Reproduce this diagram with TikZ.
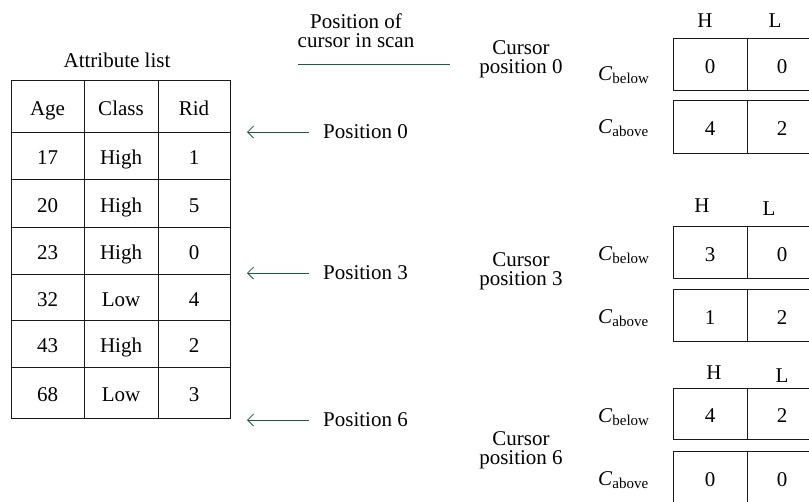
\documentclass[tikz,border=0pt]{standalone}
\usepackage{fontspec}
\setmainfont{Liberation Serif}
\usetikzlibrary{arrows.meta}
\definecolor{arrowgreen}{HTML}{1E5A3A}
\definecolor{linegray}{HTML}{1A1A1A}
\tikzset{
  txt/.style={inner sep=0pt, font=\fontsize{21}{19}\selectfont},
  cell/.style={draw=linegray, line width=0.9pt, inner sep=0pt, text height=18pt, text depth=0pt, font=\fontsize{21}{19}\selectfont},
  ptr/.style={draw=arrowgreen, line width=0.8pt, -{Straight Barb[length=6pt,width=12pt,line width=0.8pt]}},
}
\newcommand{\Clab}[1]{\textit{C}\raisebox{-0.35ex}{\fontsize{15}{15}\selectfont #1}}
\begin{document}
\begin{tikzpicture}[x=1pt,y=-1pt]
\useasboundingbox (0,0) rectangle (809,501);
\clip (0,0) rectangle (809,501);

% ---- Attribute list table ----
\node[txt] (title) at (117,60) {Attribute list};
\foreach \r/\ya/\yb/\a/\b/\c in {0/80/132/Age/Class/Rid,1/132/179/17/High/1,2/179/227/20/High/5,3/227/274/23/High/0,4/274/320/32/Low/4,5/320/367/43/High/2,6/367/418/68/Low/3}{
  \node[cell, minimum width=73pt, minimum height={\yb-\ya}] (a\r) at (47.5,{(\ya+\yb)/2}) {\a};
  \node[cell, minimum width=74pt, minimum height={\yb-\ya}] (b\r) at (121,{(\ya+\yb)/2}) {\b};
  \node[cell, minimum width=72pt, minimum height={\yb-\ya}] (c\r) at (194,{(\ya+\yb)/2}) {\c};
}

% ---- scan position label ----
\node[txt, align=center] (scanlab) at (356,31) {Position of\\cursor in scan};
\coordinate (sl) at (298,64);
\coordinate (sr) at (450,64);
\draw[draw=arrowgreen, line width=0.9pt] (sl) -- (sr);

% ---- position pointers ----
\node[txt, anchor=west] (p0) at (323,132) {Position 0};
\node[txt, anchor=west] (p3) at (323,273) {Position 3};
\node[txt, anchor=west] (p6) at (323,420) {Position 6};
\coordinate (p0s) at (309,132); \coordinate (p0e) at (247,132);
\coordinate (p3s) at (309,273); \coordinate (p3e) at (247,273);
\coordinate (p6s) at (309,420); \coordinate (p6e) at (247,420);
\draw[ptr] (p0s) -- (p0e);
\draw[ptr] (p3s) -- (p3e);
\draw[ptr] (p6s) -- (p6e);

% ---- cursor labels ----
\node[txt, align=center] (cp0) at (521,59) {Cursor\\position 0};
\node[txt, align=center] (cp3) at (521,271) {Cursor\\position 3};
\node[txt, align=center] (cp6) at (521,450) {Cursor\\position 6};

% ---- count boxes ----
% group 0
\node[txt] (h0) at (705,21) {H};
\node[txt] (l0) at (775,21) {L};
\node[cell, minimum width=74pt, minimum height=52pt] (b0h) at (710,64) {0};
\node[cell, minimum width=70pt, minimum height=52pt] (b0l) at (782,64) {0};
\node[cell, minimum width=74pt, minimum height=53pt] (a0h) at (710,126.5) {4};
\node[cell, minimum width=70pt, minimum height=53pt] (a0l) at (782,126.5) {2};
\node[txt, anchor=base west] (cb0) at (598,80) {\Clab{below}};
\node[txt, anchor=base west] (ca0) at (598,133) {\Clab{above}};
% group 3
\node[txt] (h3) at (702,206) {H};
\node[txt] (l3) at (769,209) {L};
\node[cell, minimum width=74pt, minimum height=52pt] (b3h) at (710,252) {3};
\node[cell, minimum width=70pt, minimum height=52pt] (b3l) at (782,252) {0};
\node[cell, minimum width=74pt, minimum height=52pt] (a3h) at (710,315) {1};
\node[cell, minimum width=70pt, minimum height=52pt] (a3l) at (782,315) {2};
\node[txt, anchor=base west] (cb3) at (598,260) {\Clab{below}};
\node[txt, anchor=base west] (ca3) at (598,323) {\Clab{above}};
% group 6
\node[txt] (h6) at (714,373) {H};
\node[txt] (l6) at (782,376) {L};
\node[cell, minimum width=74pt, minimum height=51pt] (b6h) at (710,413.5) {4};
\node[cell, minimum width=70pt, minimum height=51pt] (b6l) at (782,413.5) {2};
\node[cell, minimum width=74pt, minimum height=52pt] (a6h) at (710,477) {0};
\node[cell, minimum width=70pt, minimum height=52pt] (a6l) at (782,477) {0};
\node[txt, anchor=base west] (cb6) at (598,422) {\Clab{below}};
\node[txt, anchor=base west] (ca6) at (598,485) {\Clab{above}};
\end{tikzpicture}
\end{document}
